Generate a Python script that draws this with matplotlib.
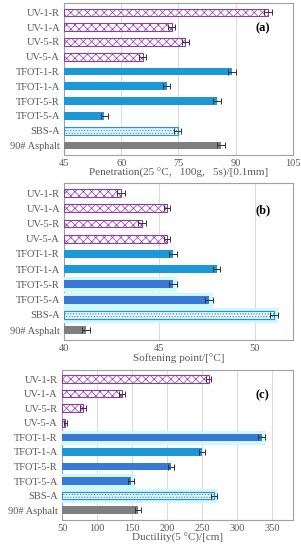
import numpy as np
import matplotlib
matplotlib.use("Agg")
import matplotlib.pyplot as plt
import matplotlib.patheffects as pe

plt.rcParams["font.family"] = ["Liberation Serif", "DejaVu Serif"]
plt.rcParams["hatch.linewidth"] = 0.5

samples = ["UV-1-R", "UV-1-A", "UV-5-R", "UV-5-A", "TFOT-1-R", "TFOT-1-A",
           "TFOT-5-R", "TFOT-5-A", "SBS-A", "90# Asphalt"]

penetration = [98.4, 73.2, 76.8, 65.6, 89.0, 71.9, 85.1, 55.5, 74.8, 86.2]
penetration_err = [1.0, 1.0, 1.0, 1.0, 1.0, 0.9, 1.0, 0.9, 0.9, 1.0]

softening = [42.97, 45.4, 44.1, 45.4, 45.7, 48.0, 45.7, 47.6, 51.0, 41.15]
softening_err = [0.2, 0.15, 0.2, 0.15, 0.2, 0.2, 0.2, 0.2, 0.2, 0.2]

ductility = [259.5, 135.7, 80.0, 54.8, 335.7, 250.5, 206.0, 149.0, 267.0, 158.6]
ductility_err = [4, 4, 4, 2, 5, 4, 4, 4, 4, 4]

PURPLE = "#8A3CAE"
BLUE = "#1C98D6"
DBLUE = "#3A78D6"
GRAY = "#7F7F7F"
TXT = "#595959"


def bar_styles(dark):
    st = []
    for i, name in enumerate(samples):
        if name.startswith("UV"):
            st.append(dict(color="white", edgecolor=PURPLE, hatch="xxxx", lw=0.8))
        elif name.startswith("TFOT"):
            c = DBLUE if i in dark else BLUE
            st.append(dict(color=c, edgecolor=c, hatch=None, lw=0))
        elif name.startswith("SBS"):
            st.append(dict(color="#E6F6FC", edgecolor="#2F8ED4", hatch="......", lw=0.8))
        else:
            st.append(dict(color=GRAY, edgecolor=GRAY, hatch=None, lw=0))
    return st


def panel(ax, vals, errs, xlim, ticks, xlabel, letter, dark=(), glow=()):
    y = np.arange(len(samples))
    for i, (v, e, st) in enumerate(zip(vals, errs, bar_styles(dark))):
        b = ax.barh(y[i], v - xlim[0], left=xlim[0], height=0.52,
                    color=st["color"], edgecolor=st["edgecolor"],
                    hatch=st["hatch"], linewidth=st["lw"], zorder=3)
        if i in glow:
            for p in b:
                p.set_path_effects([pe.withStroke(linewidth=5, foreground="#CFF8FF"),
                                    pe.Normal()])
        ax.errorbar(v, y[i], xerr=e, fmt="none", ecolor="#333333",
                    elinewidth=0.7, capsize=2, capthick=0.7, zorder=4)
    ax.set_yticks(y)
    ax.set_yticklabels(samples)
    ax.set_ylim(9.65, -0.65)
    ax.set_xlim(*xlim)
    ax.set_xticks(ticks)
    ax.tick_params(length=0, labelsize=7.5, labelcolor=TXT, pad=3)
    ax.grid(axis="x", color="#D9D9D9", lw=0.7, zorder=0)
    for sp in ax.spines.values():
        sp.set_color("#A0A0A0")
        sp.set_linewidth(0.8)
    ax.set_xlabel(xlabel, fontsize=8, color=TXT, labelpad=0)
    ax.text(0.87, 0.83, letter, transform=ax.transAxes, fontsize=9,
            fontweight="bold", ha="center", va="center")


fig = plt.figure(figsize=(3.01, 5.5), dpi=100)
ax1 = fig.add_axes([0.213, 0.718, 0.76, 0.277])
ax2 = fig.add_axes([0.213, 0.382, 0.76, 0.285])
ax3 = fig.add_axes([0.206, 0.055, 0.767, 0.273])

panel(ax1, penetration, penetration_err, (45, 105), [45, 60, 75, 90, 105],
      "Penetration(25 °C,   100g,   5s)/[0.1mm]", "(a)")
panel(ax2, softening, softening_err, (40, 52), [40, 45, 50],
      "Softening point/[°C]", "(b)", dark=(6, 7), glow=(6, 7, 8))
panel(ax3, ductility, ductility_err, (50, 380), [50, 100, 150, 200, 250, 300, 350],
      "Ductility(5 °C)/[cm]", "(c)", dark=(4, 6, 7), glow=(4, 7, 8))

fig.savefig("out.png", dpi=100)
